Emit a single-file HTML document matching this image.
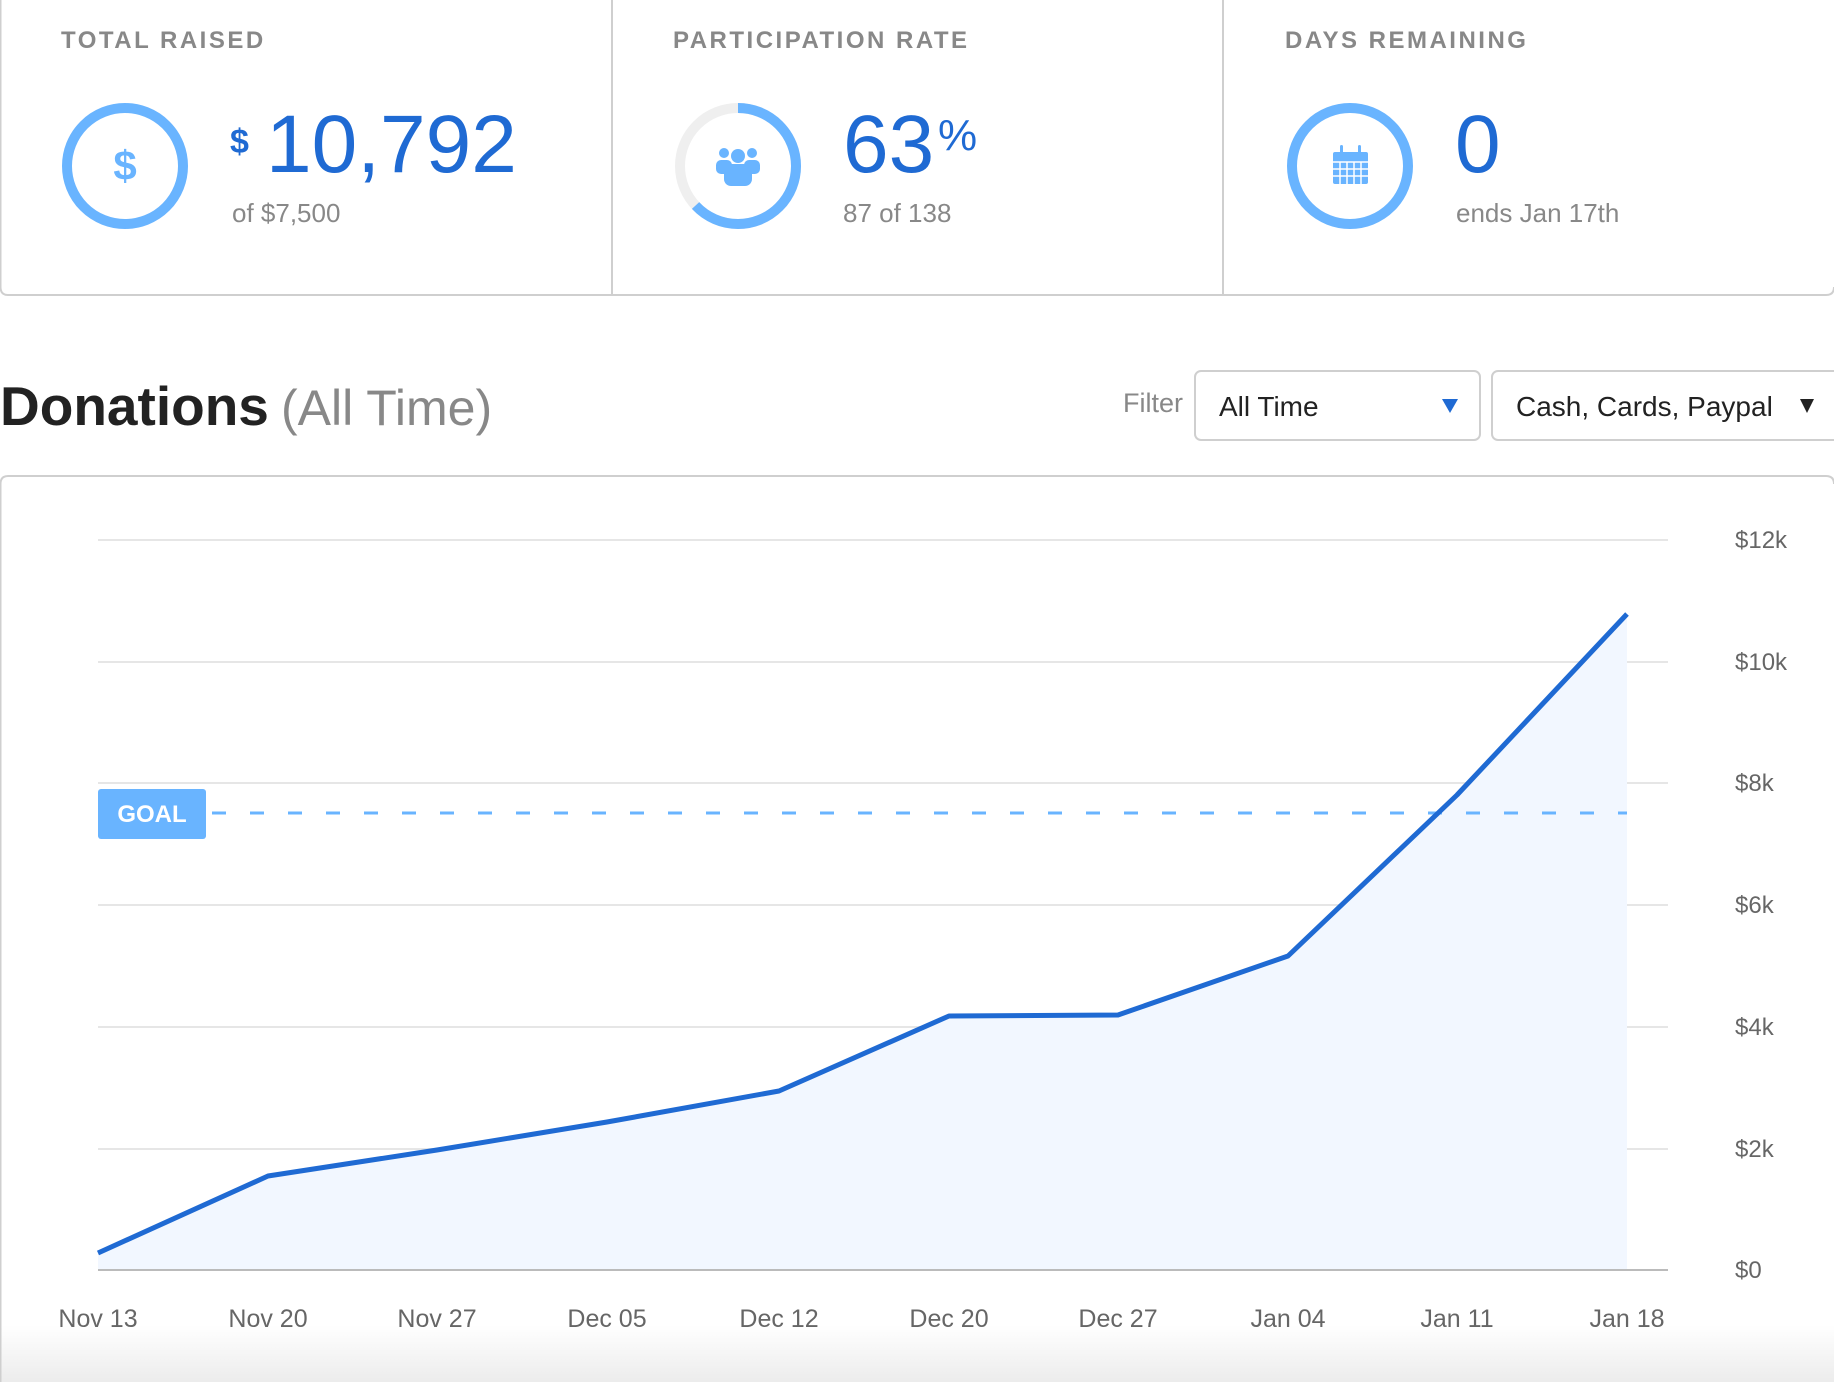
<!DOCTYPE html>
<html><head><meta charset="utf-8"><style>
html,body{margin:0;padding:0;background:#fff;}
body{width:1834px;height:1382px;overflow:hidden;font-family:"Liberation Sans",sans-serif;}
</style></head><body>
<svg width="1834" height="1382" viewBox="0 0 1834 1382" xmlns="http://www.w3.org/2000/svg" font-family="Liberation Sans, sans-serif">
<defs>
<linearGradient id="bg" x1="0" y1="0" x2="0" y2="1">
<stop offset="0" stop-color="#ffffff"/><stop offset="1" stop-color="#ececec"/>
</linearGradient>
</defs>
<rect width="1834" height="1382" fill="#fff"/>
<rect x="0" y="1325" width="1834" height="57" fill="url(#bg)"/>
<!-- top cards -->
<path d="M0.5 0 V287 Q0.5 295 8 295 H1826 Q1834 295 1834 287" fill="none" stroke="#cfcfcf" stroke-width="2"/>
<line x1="612" y1="0" x2="612" y2="295" stroke="#cfcfcf" stroke-width="2"/>
<line x1="1223" y1="0" x2="1223" y2="295" stroke="#cfcfcf" stroke-width="2"/>
<g font-weight="bold" font-size="24" fill="#888" letter-spacing="2.5">
<text x="61" y="48">TOTAL RAISED</text>
<text x="673" y="48">PARTICIPATION RATE</text>
<text x="1285" y="48">DAYS REMAINING</text>
</g>
<!-- circle 1 -->
<circle cx="125" cy="166" r="58" fill="none" stroke="#69b4ff" stroke-width="10"/>
<text x="125" y="180" text-anchor="middle" font-size="42" font-weight="bold" fill="#69b4ff">$</text>
<text x="230" y="153" font-size="34" font-weight="bold" fill="#1f6ad3">$</text>
<text x="266" y="172" font-size="82" fill="#1f6ad3">10,792</text>
<text x="232" y="222" font-size="26" fill="#888">of $7,500</text>
<!-- circle 2 -->
<circle cx="738" cy="166" r="58" fill="none" stroke="#efefef" stroke-width="10"/>
<circle cx="738" cy="166" r="58" fill="none" stroke="#69b4ff" stroke-width="10" stroke-dasharray="229.6 364.4" transform="rotate(-90 738 166)"/>
<g fill="#69b4ff">
<circle cx="724" cy="153" r="5"/><circle cx="752" cy="153" r="5"/><circle cx="738" cy="156" r="7"/>
<rect x="716" y="160" width="16" height="14" rx="5"/><rect x="744" y="160" width="16" height="14" rx="5"/>
<rect x="724" y="164" width="28" height="22" rx="7"/>
</g>
<text x="843" y="172" font-size="82" fill="#1f6ad3">63</text>
<text x="938" y="150" font-size="44" fill="#1f6ad3">%</text>
<text x="843" y="222" font-size="26" fill="#888">87 of 138</text>
<!-- circle 3 -->
<circle cx="1350" cy="166" r="58" fill="none" stroke="#69b4ff" stroke-width="10"/>
<g fill="#69b4ff">
<rect x="1333" y="152" width="35" height="32" rx="2"/>
<rect x="1340" y="145" width="3" height="10" rx="1.5"/><rect x="1358" y="145" width="3" height="10" rx="1.5"/>
</g>
<g stroke="#fff" stroke-width="1.5">
<line x1="1333" y1="162" x2="1368" y2="162"/><line x1="1333" y1="169" x2="1368" y2="169"/><line x1="1333" y1="176" x2="1368" y2="176"/>
<line x1="1340" y1="162" x2="1340" y2="184"/><line x1="1347" y1="162" x2="1347" y2="184"/><line x1="1354" y1="162" x2="1354" y2="184"/><line x1="1361" y1="162" x2="1361" y2="184"/>
</g>
<text x="1455" y="172" font-size="82" fill="#1f6ad3">0</text>
<text x="1456" y="222" font-size="26" fill="#888">ends Jan 17th</text>
<!-- heading -->
<text x="0" y="425" font-size="55" font-weight="bold" fill="#222">Donations</text>
<text x="281" y="425" font-size="50" fill="#888">(All Time)</text>
<text x="1123" y="412" font-size="27" fill="#888">Filter</text>
<rect x="1195" y="371" width="285" height="69" rx="6" fill="#fff" stroke="#cfcfcf" stroke-width="2"/>
<text x="1219" y="416" font-size="28" fill="#222">All Time</text>
<path d="M1442 399 L1458 399 L1450 413 Z" fill="#1f6ad3"/>
<rect x="1492" y="371" width="350" height="69" rx="6" fill="#fff" stroke="#cfcfcf" stroke-width="2"/>
<text x="1516" y="416" font-size="28" fill="#222">Cash, Cards, Paypal</text>
<path d="M1800 399 L1814 399 L1807 413 Z" fill="#222"/>
<!-- chart card -->
<path d="M0.5 1382 V484 Q0.5 476 8 476 H1826 Q1834 476 1834 484" fill="none" stroke="#cfcfcf" stroke-width="2"/>
<g stroke="#e6e6e6" stroke-width="2">
<line x1="98" y1="540" x2="1668" y2="540"/>
<line x1="98" y1="662" x2="1668" y2="662"/>
<line x1="98" y1="783" x2="1668" y2="783"/>
<line x1="98" y1="905" x2="1668" y2="905"/>
<line x1="98" y1="1027" x2="1668" y2="1027"/>
<line x1="98" y1="1149" x2="1668" y2="1149"/>
</g>
<path d="M98 1253 L268 1176 L437 1150 L607 1122 L779 1091 L949 1016 L1118 1015 L1288 956 L1457 795 L1627 614 L1627 1270 L98 1270 Z" fill="#f2f7ff"/>
<line x1="98" y1="1270" x2="1668" y2="1270" stroke="#bbb" stroke-width="2"/>
<line x1="212" y1="813" x2="1627" y2="813" stroke="#69b4ff" stroke-width="3" stroke-dasharray="14 24"/>
<polyline points="98,1253 268,1176 437,1150 607,1122 779,1091 949,1016 1118,1015 1288,956 1457,795 1627,614" fill="none" stroke="#1f6ad3" stroke-width="5" stroke-linejoin="round"/>
<rect x="98" y="789" width="108" height="50" rx="3" fill="#69b4ff"/>
<text x="152" y="822" text-anchor="middle" font-size="24" font-weight="bold" fill="#fff">GOAL</text>
<g font-size="24" fill="#666">
<text x="1735" y="548">$12k</text>
<text x="1735" y="670">$10k</text>
<text x="1735" y="791">$8k</text>
<text x="1735" y="913">$6k</text>
<text x="1735" y="1035">$4k</text>
<text x="1735" y="1157">$2k</text>
<text x="1735" y="1278">$0</text>
</g>
<g font-size="25" fill="#666" text-anchor="middle">
<text x="98" y="1327">Nov 13</text>
<text x="268" y="1327">Nov 20</text>
<text x="437" y="1327">Nov 27</text>
<text x="607" y="1327">Dec 05</text>
<text x="779" y="1327">Dec 12</text>
<text x="949" y="1327">Dec 20</text>
<text x="1118" y="1327">Dec 27</text>
<text x="1288" y="1327">Jan 04</text>
<text x="1457" y="1327">Jan 11</text>
<text x="1627" y="1327">Jan 18</text>
</g>
</svg>
</body></html>
